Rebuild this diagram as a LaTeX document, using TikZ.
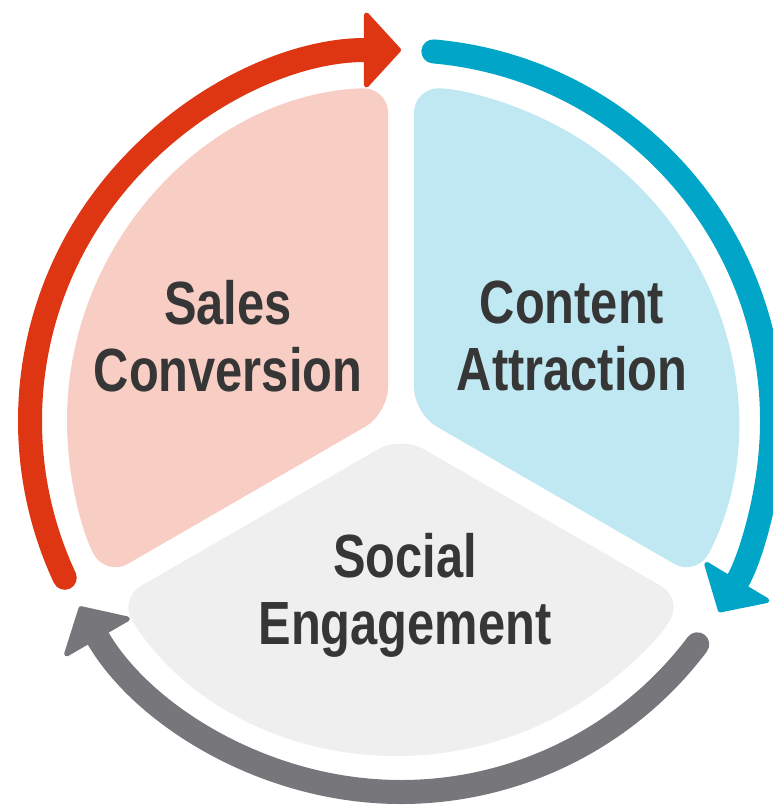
\documentclass[tikz,border=0pt]{standalone}
\usepackage{fontspec}
\setmainfont{Liberation Sans}[FakeStretch=0.8]
\usetikzlibrary{calc,arrows.meta}
\definecolor{salesred}{HTML}{DE3512}
\definecolor{salesfill}{HTML}{F7CDC4}
\definecolor{contentblue}{HTML}{00A5C8}
\definecolor{contentfill}{HTML}{C0E8F2}
\definecolor{socialgray}{HTML}{77767B}
\definecolor{socialfill}{HTML}{EFEFEF}
\definecolor{wordgray}{HTML}{363636}
\tikzset{
	ringarrow/.style={line width=24pt, line cap=round, -{Triangle[width=82pt,length=38pt,line width=5pt,round]}},
	slicetext/.style={text=wordgray, align=center, font=\fontsize{61}{67}\selectfont\bfseries}
}
\def\pieslice[#1](#2)(#3:#4){\fill[#1, rounded corners=26pt] ($(#2)+({(#3+#4)/2}:15)$) -- ($(#2)+(#3+2.2:334)$) arc (#3+2.2:#4-2.2:334) -- cycle;}
\def\ringarc[#1](#2)(#3:#4){\draw[#1] ($(#2)+(#3:371)$) arc (#3:#4:371);}

\begin{document}
\begin{tikzpicture}[x=1pt, y=1pt]
			%%%%% START %%%%%
			\useasboundingbox (0, 0) rectangle (773, 809);
			\coordinate (hub) at (401, 388);
			
			\pieslice[salesfill](hub)(90:210)
			\pieslice[contentfill](hub)(-30:90)
			\pieslice[socialfill](hub)(210:330)
			
			\ringarc[ringarrow, salesred](hub)(205:90)
			\ringarc[ringarrow, contentblue](hub)(85:-31)
			\ringarc[ringarrow, socialgray](hub)(-37:-150)
			
			\node[slicetext] (sales) at (228, 473) {Sales\\Conversion};
			\node[slicetext] (content) at (572, 473) {Content\\Attraction};
			\node[slicetext] (social) at (405, 214) {Social\\Engagement};
			
			%%%%% END %%%%%
\end{tikzpicture}
\end{document}
